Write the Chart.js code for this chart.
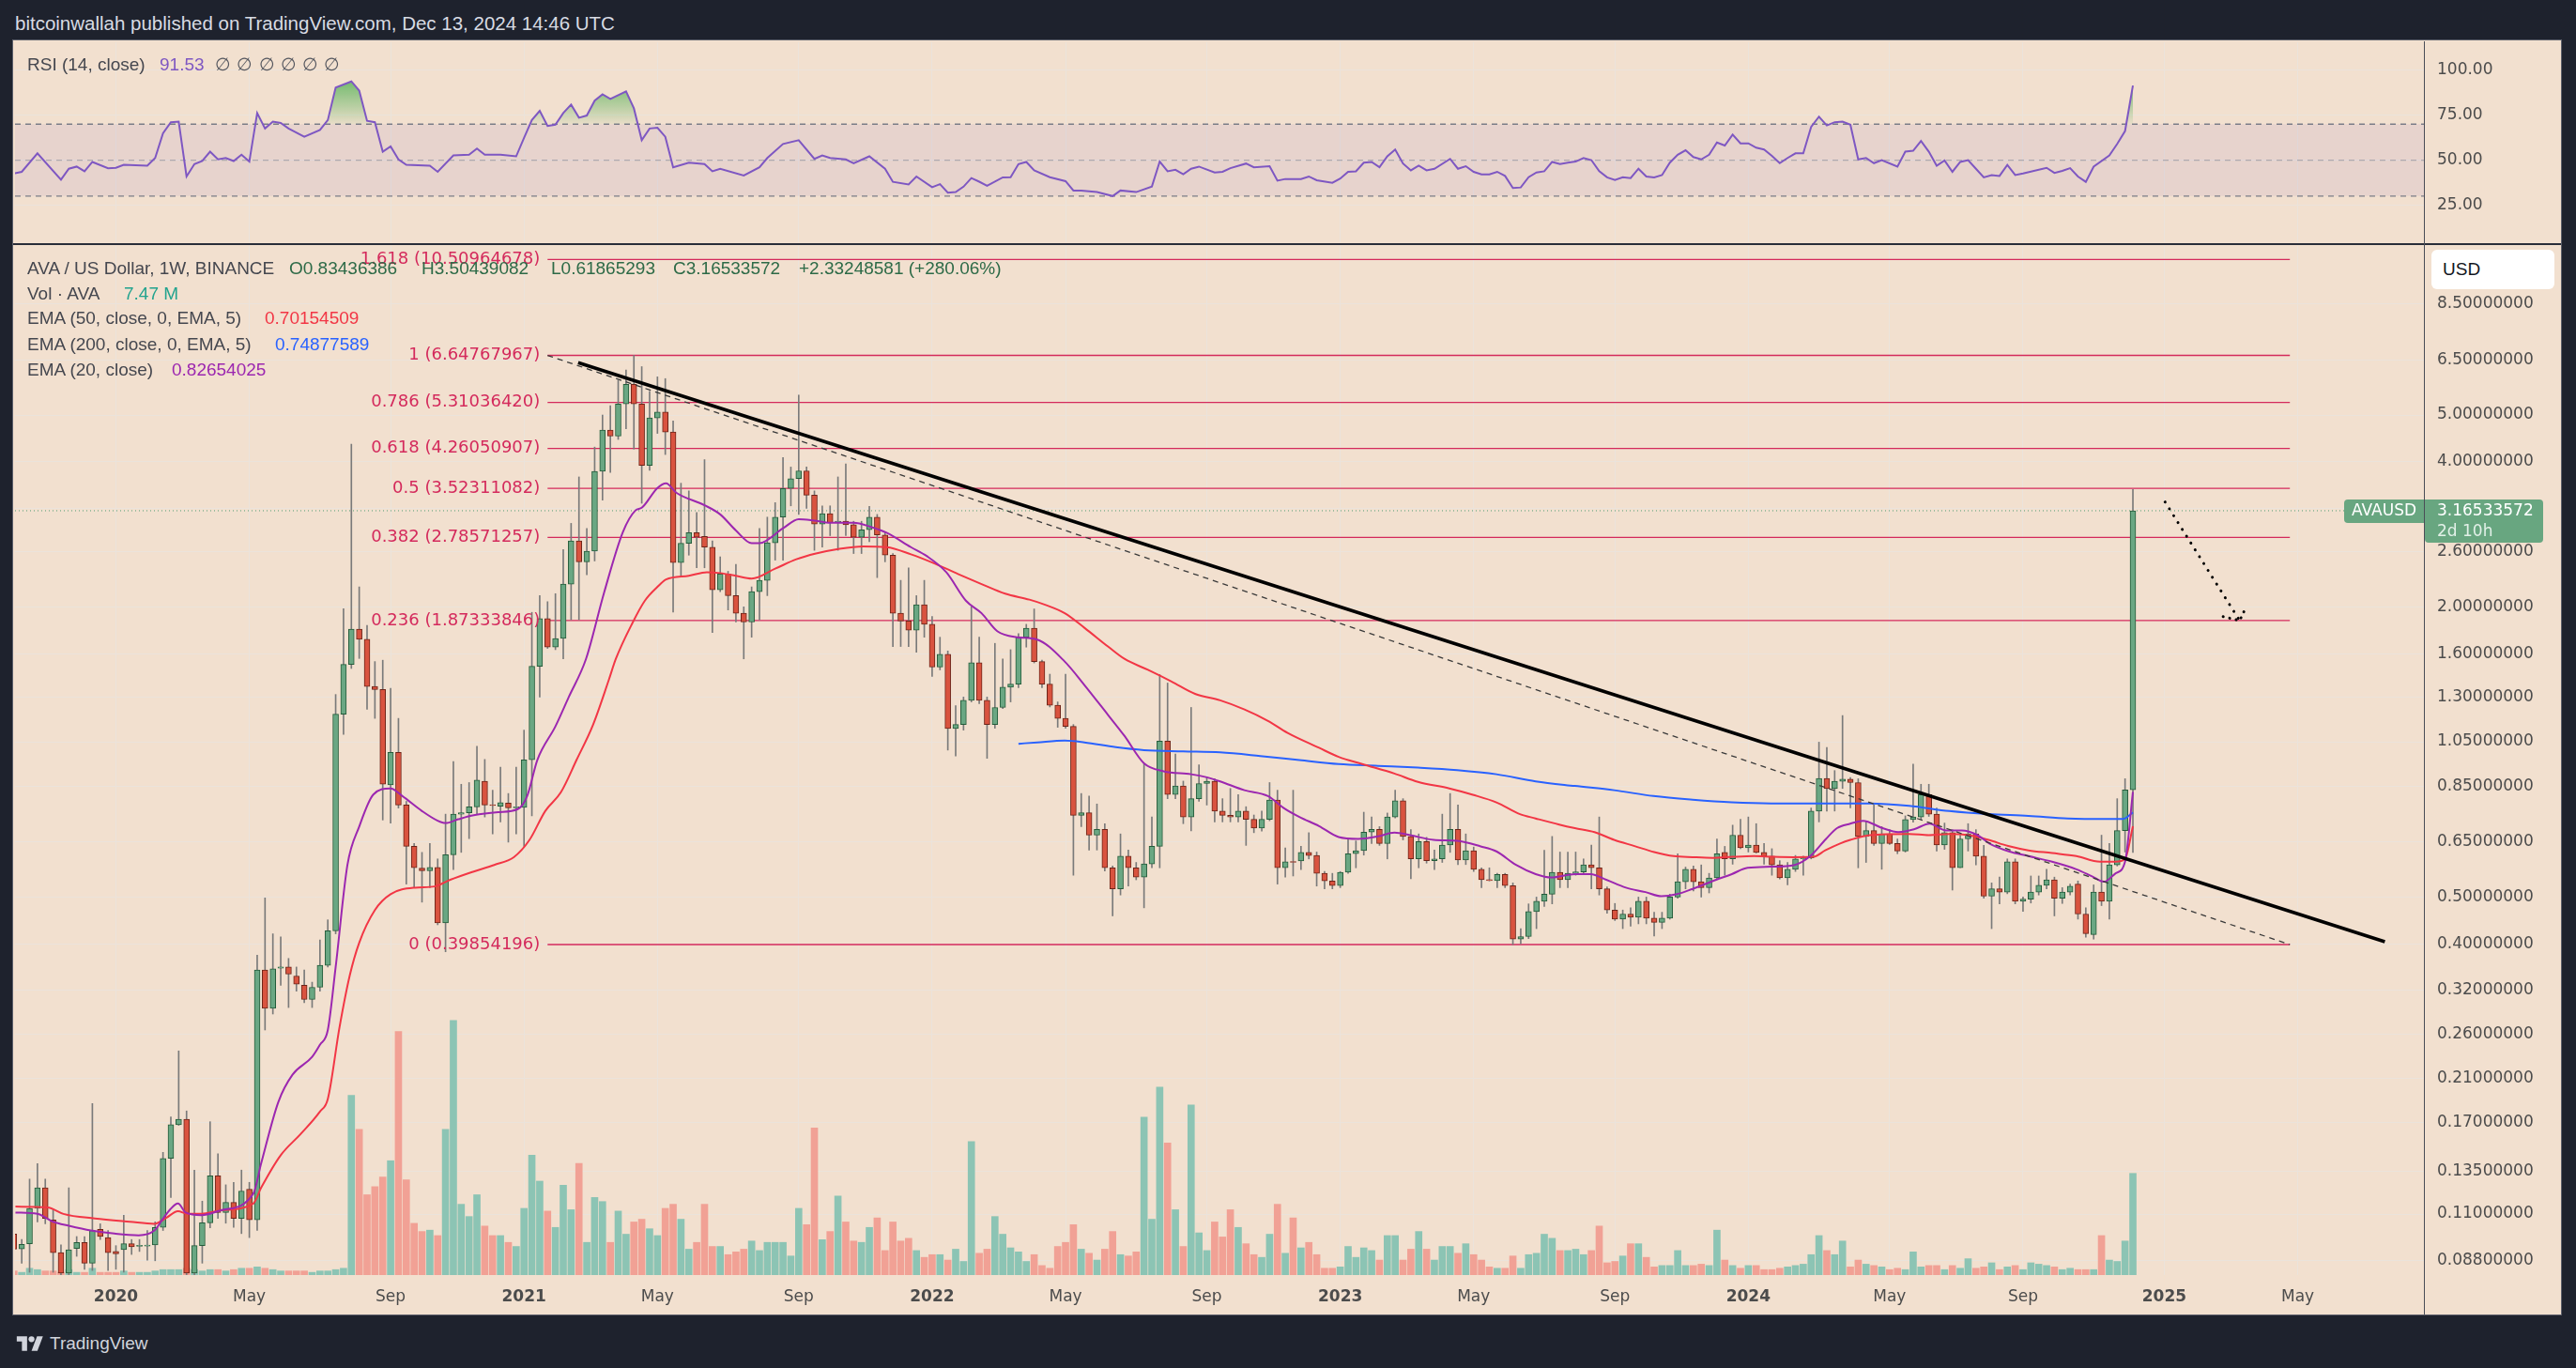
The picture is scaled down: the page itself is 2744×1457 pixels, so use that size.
<!DOCTYPE html>
<html>
<head>
<meta charset="utf-8">
<title>AVA / US Dollar, 1W</title>
<script src="https://cdn.jsdelivr.net/npm/chart.js@4.4.1/dist/chart.umd.min.js"></script>
<style>
  body { margin:0; width:2744px; height:1457px; background:#1e222d; position:relative; overflow:hidden; font-family:'Liberation Sans', Arial, sans-serif; }
  .abs { position:absolute; white-space:nowrap; }
  #frame { left:14px; top:43px; width:2714px; height:1357px; background:#f2e0cf; outline:1px solid #5d606b; }
  #rsi { left:14px; top:44px; }
  #main { left:14px; top:261px; }
  .lg { font-size:19px; line-height:22px; color:#45474f; }
</style>
</head>
<body>
<div class="abs" id="frame"></div>
<canvas class="abs" id="rsi" width="2714" height="215"></canvas>
<canvas class="abs" id="main" width="2714" height="1139"></canvas>
<div class="abs" style="left:14px;top:259px;width:2714px;height:2px;background:#2a2e39"></div>
<div class="abs" style="left:2582px;top:44px;width:1px;height:1356px;background:#4a4d57"></div>

<div class="abs" style="left:16px;top:13px;font-size:20.5px;color:#d8dbe3">bitcoinwallah published on TradingView.com, Dec 13, 2024 14:46 UTC</div>

<div class="abs lg" style="left:29px;top:58px">RSI (14, close)</div>
<div class="abs lg" style="left:170px;top:58px;color:#7e57c2">91.53</div>
<div class="abs lg" style="left:229px;top:58px;color:#55575f;word-spacing:1px">∅ ∅ ∅ ∅ ∅ ∅</div>

<div class="abs lg" style="left:29px;top:275px">AVA / US Dollar, 1W, BINANCE</div>
<div class="abs lg" style="left:308px;top:275px;color:#2d6a47">O0.83436386</div>
<div class="abs lg" style="left:449px;top:275px;color:#2d6a47">H3.50439082</div>
<div class="abs lg" style="left:587px;top:275px;color:#2d6a47">L0.61865293</div>
<div class="abs lg" style="left:717px;top:275px;color:#2d6a47">C3.16533572</div>
<div class="abs lg" style="left:851px;top:275px;color:#2d6a47">+2.33248581 (+280.06%)</div>
<div class="abs lg" style="left:29px;top:302px">Vol · AVA</div>
<div class="abs lg" style="left:132px;top:302px;color:#22a38e">7.47 M</div>
<div class="abs lg" style="left:29px;top:328px">EMA (50, close, 0, EMA, 5)</div>
<div class="abs lg" style="left:282px;top:328px;color:#f23645">0.70154509</div>
<div class="abs lg" style="left:29px;top:356px">EMA (200, close, 0, EMA, 5)</div>
<div class="abs lg" style="left:293px;top:356px;color:#2962ff">0.74877589</div>
<div class="abs lg" style="left:29px;top:383px">EMA (20, close)</div>
<div class="abs lg" style="left:183px;top:383px;color:#9c27b0">0.82654025</div>

<div class="abs" style="left:2590px;top:266px;width:131px;height:42px;background:#ffffff;border-radius:6px;font-size:19px;line-height:42px;color:#131722;text-indent:12px">USD</div>

<svg class="abs" style="left:14px;top:1420px" width="36" height="22" viewBox="0 0 36 28">
  <path d="M14 24H7V11H0V4h14v20z" fill="#d1d4dc"/>
  <circle cx="20" cy="8" r="4" fill="#d1d4dc"/>
  <path d="M28 24h-8l7.5-20h8L28 24z" fill="#d1d4dc"/>
</svg>
<div class="abs" style="left:53px;top:1420px;font-size:19px;line-height:22px;color:#d1d4dc">TradingView</div>

<script>
// weekly bars, index 0 = week of 7 Oct 2019, index 270 = week of 9 Dec 2024
const opens = [
  .100,.0931,.0955,.113,.1247,.107,.0915,.083,.0933,.096,
  .087,.1023,.0983,.092,.0928,.0955,.0943,.0944,.0949,.1032,
  .1435,.1686,.173,.083,.0946,.1055,.132,.1108,.1163,.1077,
  .1238,.107,.353,.294,.356,.358,.343,.328,.3066,.325,
  .361,.4256,1.198,1.519,1.798,1.713,1.367,1.348,.855,.998,
  .776,.637,.574,.567,.576,.442,.612,.743,.748,.769,
  .869,.776,.772,.783,.766,.767,.963,1.506,1.89,1.65,
  1.72,2.23,2.74,2.48,2.61,3.82,4.65,4.52,5.27,5.79,
  5.27,3.93,4.93,5.07,4.61,2.47,2.71,2.85,2.80,2.66,
  2.17,2.34,2.11,1.94,1.86,2.15,2.27,2.715,3.07,3.52,
  3.69,3.83,3.41,2.97,3.12,2.99,3.01,2.96,2.79,2.89,
  3.07,2.82,2.56,1.94,1.87,1.79,2.02,1.84,1.50,1.595,
  1.119,1.14,1.28,1.532,1.28,1.14,1.237,1.363,1.383,1.73,
  1.807,1.54,1.383,1.25,1.174,1.13,.739,.748,.672,.691,
  .575,.520,.608,.575,.55,.586,.637,1.053,.816,.85,
  .733,.80,.86,.869,.754,.739,.733,.754,.725,.695,
  .725,.795,.575,.592,.594,.619,.61,.56,.54,.528,
  .563,.615,.624,.682,.691,.646,.733,.792,.668,.60,
  .652,.595,.60,.641,.691,.597,.624,.571,.543,.541,
  .557,.528,.409,.414,.4665,.49,.507,.563,.543,.56,
  .564,.583,.575,.52,.47,.45,.461,.454,.49,.452,
  .443,.452,.50,.538,.571,.538,.523,.548,.619,.60,
  .672,.633,.641,.619,.608,.583,.548,.571,.60,.603,
  .754,.881,.839,.869,.878,.864,.668,.687,.646,.676,
  .646,.623,.724,.733,.816,.743,.641,.68,.575,.66,
  .676,.608,.502,.52,.512,.592,.49,.495,.512,.529,
  .543,.497,.512,.532,.461,.418,.512,.49,.583,.687,
  .83436386
];
const highs = [
  .103,.0974,.130,.140,.130,.1124,.095,.1247,.0988,.0988,
  .1865,.105,.1017,.0946,.1094,.0974,.0974,.1017,.106,.1477,
  .175,.2398,.180,.1357,.117,.171,.1467,.1265,.128,.1357,
  .128,.379,.498,.4195,.4135,.373,.358,.353,.333,.4076,
  .4485,1.316,1.982,4.35,2.20,1.83,1.54,1.55,1.355,1.174,
  .79,.646,.619,.646,.60,.743,.955,.857,.864,1.027,
  .965,.833,.93,.82,.93,1.11,1.948,2.11,2.05,2.13,
  2.63,2.98,3.72,2.91,4.29,5.00,5.23,5.9,6.2,6.648,
  6.3,5.6,6.0,5.95,4.86,3.61,3.48,3.14,4.04,2.74,
  2.54,2.37,2.45,2.0,2.2,2.91,3.07,3.29,4.08,3.90,
  5.50,3.9,3.48,3.24,3.24,3.72,3.96,3.01,3.01,3.23,
  3.11,2.85,2.58,2.27,2.41,2.11,2.27,1.91,1.73,1.62,
  1.247,1.30,2.00,1.73,1.30,1.68,1.56,1.63,1.76,1.84,
  1.98,1.55,1.45,1.27,1.45,1.14,.82,.81,.78,.71,
  .58,.676,.626,.59,.944,.733,1.447,1.39,.99,.87,
  1.237,.94,.887,.88,.80,.84,.816,.77,.74,.754,
  .864,.833,.632,.833,.637,.68,.62,.565,.56,.565,
  .661,.654,.75,.733,.70,.747,.833,.80,.69,.676,
  .665,.626,.743,.82,.776,.676,.635,.575,.575,.56,
  .56,.535,.43,.484,.50,.625,.668,.62,.62,.62,
  .60,.641,.733,.525,.485,.47,.475,.50,.50,.465,
  .465,.507,.615,.577,.58,.583,.56,.66,.637,.705,
  .725,.733,.71,.646,.63,.595,.59,.61,.608,.765,
  1.048,1.022,.915,1.19,.885,.88,.716,.776,.70,.69,
  .66,.737,.944,.857,.857,.765,.712,.69,.672,.71,
  .69,.64,.535,.55,.60,.60,.50,.553,.553,.571,
  .55,.523,.532,.54,.475,.53,.672,.646,.80,.88,
  3.50439082
];
const lows = [
  .091,.087,.0833,.106,.105,.0833,.080,.081,.0899,.0845,
  .084,.0974,.084,.0845,.0833,.0907,.092,.0882,.088,.1017,
  .119,.168,.078,.080,.087,.103,.1077,.1053,.1032,.1002,
  .0983,.1017,.265,.286,.328,.295,.319,.302,.295,.319,
  .358,.4195,1.087,1.49,1.563,1.226,1.174,.7225,.712,.765,
  .532,.523,.488,.523,.438,.385,.57,.619,.661,.743,
  .733,.676,.716,.65,.676,.637,.737,1.30,1.64,1.63,
  1.56,1.88,1.88,2.33,2.49,3.33,3.80,4.45,4.68,4.25,
  3.28,3.84,4.58,4.14,1.95,2.31,2.56,2.41,2.41,1.77,
  2.15,1.97,1.86,1.56,1.73,1.88,2.11,2.50,2.50,3.24,
  3.11,3.20,2.62,2.66,2.81,2.62,2.81,2.58,2.58,2.73,
  2.30,2.48,1.655,1.655,1.655,1.61,1.73,1.435,1.48,1.009,
  .981,1.11,1.27,1.26,.97,1.12,1.23,1.27,1.36,1.65,
  1.53,1.36,1.24,1.125,1.12,.555,.70,.626,.626,.566,
  .457,.505,.527,.543,.475,.575,.575,.80,.80,.71,
  .686,.79,.776,.716,.716,.716,.716,.64,.68,.685,
  .72,.532,.55,.553,.57,.60,.527,.52,.52,.523,
  .56,.575,.611,.646,.64,.60,.73,.657,.546,.575,
  .588,.57,.59,.619,.584,.584,.565,.523,.54,.523,
  .523,.3985,.40,.41,.43,.478,.484,.523,.523,.555,
  .56,.52,.505,.463,.447,.43,.435,.44,.44,.415,
  .43,.45,.497,.52,.515,.50,.51,.545,.555,.585,
  .63,.62,.617,.585,.555,.545,.53,.565,.555,.60,
  .716,.754,.754,.84,.766,.575,.59,.64,.571,.643,
  .615,.62,.715,.725,.735,.623,.628,.517,.575,.623,
  .583,.497,.43,.484,.508,.484,.467,.486,.505,.52,
  .457,.485,.505,.45,.413,.409,.48,.45,.58,.62,
  .61865293
];
const closes = [
  .093,.0952,.113,.1247,.1077,.0915,.083,.0928,.096,.087,
  .1017,.0988,.0915,.091,.0955,.0941,.0944,.0946,.1032,.1435,
  .1686,.173,.083,.0946,.1055,.132,.1108,.1163,.1077,.1228,
  .107,.353,.294,.355,.358,.346,.330,.3066,.325,.361,
  .4256,1.198,1.519,1.798,1.713,1.367,1.348,.857,.998,.776,
  .637,.575,.567,.576,.442,.612,.743,.748,.769,.874,
  .776,.774,.785,.766,.768,.963,1.506,1.89,1.65,1.72,
  2.23,2.74,2.48,2.61,3.82,4.65,4.52,5.27,5.79,5.27,
  3.93,4.93,5.07,4.61,2.47,2.71,2.85,2.79,2.66,2.17,
  2.34,2.11,1.94,1.86,2.15,2.27,2.715,3.07,3.52,3.69,
  3.83,3.41,2.97,3.12,2.99,3.01,2.96,2.79,2.89,3.07,
  2.82,2.56,1.94,1.87,1.79,2.02,1.84,1.50,1.595,1.119,
  1.14,1.28,1.532,1.28,1.14,1.237,1.363,1.383,1.73,1.807,
  1.54,1.383,1.25,1.174,1.13,.739,.748,.672,.691,.575,
  .520,.608,.575,.55,.586,.637,1.053,.816,.85,.733,
  .80,.86,.869,.754,.739,.733,.754,.725,.695,.725,
  .795,.575,.592,.590,.619,.61,.56,.54,.528,.563,
  .615,.624,.682,.691,.646,.733,.792,.668,.60,.652,
  .595,.60,.641,.691,.597,.624,.571,.543,.541,.557,
  .528,.409,.414,.4665,.49,.507,.563,.543,.56,.564,
  .583,.575,.52,.47,.45,.461,.454,.49,.452,.443,
  .452,.50,.538,.571,.538,.523,.548,.615,.60,.672,
  .633,.641,.619,.608,.583,.548,.571,.60,.603,.754,
  .881,.839,.869,.878,.864,.668,.687,.646,.676,.646,
  .623,.724,.733,.816,.743,.641,.68,.575,.66,.676,
  .608,.502,.52,.512,.592,.49,.495,.512,.529,.543,
  .497,.512,.527,.461,.42,.512,.49,.583,.687,.834,
  3.16533572
];
// volume in millions of AVA
const volumes = [
  .3,.2,.5,.4,.3,.3,.2,.4,.2,.2,
  .5,.2,.2,.2,.3,.2,.2,.2,.3,.4,
  .4,.4,.5,.4,.3,.4,.4,.3,.4,.5,
  .5,.6,.5,.4,.3,.3,.3,.3,.2,.3,
  .3,.4,.5,13.2,10.7,5.9,6.5,7.2,8.4,17.9,
  7.0,3.8,3.2,3.3,2.9,10.7,18.7,5.2,4.3,5.9,
  3.6,2.9,2.9,2.4,2.1,4.9,8.8,6.9,4.7,3.5,
  6.6,4.8,8.2,2.4,5.7,5.4,2.4,4.7,3.0,3.9,
  4.1,3.4,2.9,4.9,5.2,4.1,1.9,2.4,5.2,2.1,
  2.1,1.5,1.7,1.9,2.5,1.8,2.4,2.4,2.4,1.4,
  4.9,3.7,10.8,2.6,3.2,5.8,3.9,2.5,2.4,3.5,
  4.2,1.8,3.9,2.5,2.7,1.8,1.3,1.5,1.5,1.1,
  1.9,1.0,9.8,1.6,1.9,4.3,3.0,2.0,1.7,1.0,
  1.5,0.7,0.5,2.1,2.4,3.7,1.9,1.6,1.1,1.9,
  3.2,1.5,1.4,1.7,11.6,4.1,13.8,9.7,4.8,2.1,
  12.5,3.1,1.8,3.9,2.8,4.8,3.5,2.3,1.5,1.3,
  3.0,5.2,1.6,4.2,2.0,2.4,1.5,0.5,0.5,0.6,
  2.1,1.3,2.0,1.8,1.1,2.9,2.9,1.1,1.9,3.2,
  1.9,1.1,2.1,2.1,1.6,2.3,1.5,1.1,0.6,0.5,
  0.5,1.4,0.5,1.5,1.6,3.0,2.7,1.8,1.8,1.9,
  1.5,1.8,3.6,0.9,1.0,1.4,2.3,2.3,1.3,0.6,
  0.7,0.7,1.8,0.7,0.7,0.8,0.7,3.3,1.1,0.7,
  0.5,0.7,0.7,0.4,0.4,0.5,0.6,0.7,0.8,1.5,
  2.9,1.8,1.5,2.5,0.6,1.1,0.8,0.7,0.6,0.4,
  0.5,0.4,1.7,0.6,0.7,0.7,0.4,0.7,0.5,1.2,
  0.5,0.6,0.9,0.4,0.6,0.7,0.4,0.9,0.8,0.7,
  0.6,0.4,0.5,0.4,0.4,0.4,2.9,1.1,1.0,2.5,
  7.47
];

// indicator lines: [bar, value]
const ema20Series = [
  [0.2,.1108],[3,.1101],[5,.106],[7,.104],[9.8,.1017],[12.8,.1002],[15.9,.0994],[17.9,.1017],[18.9,.107],[19.9,.1124],
  [20.9,.1157],[21.9,.1108],[23.9,.1094],[26.4,.112],[30.5,.1212],[31.5,.140],[33.7,.188],[35.5,.214],[38,.233],[39,.247],
  [40,.265],[41,.358],[42.5,.583],[44,.70],[45.8,.816],[48,.84],[49.5,.81],[52,.754],[54,.72],[55,.712],
  [56.6,.725],[58.6,.739],[61.7,.75],[64.2,.761],[65.4,.81],[66.7,.963],[69,1.13],[70.7,1.30],[72.9,1.56],[75.2,2.14],
  [77.6,2.86],[79.2,3.17],[80,3.21],[82,3.53],[83.1,3.61],[84.4,3.45],[88,3.25],[90,3.11],[92,2.88],[94,2.71],
  [95,2.71],[98,2.91],[100,3.04],[102,3.02],[104,2.99],[107,2.99],[109.2,2.93],[111.2,2.85],[114.3,2.66],[116.3,2.55],
  [118.8,2.36],[121.3,2.06],[123.3,1.94],[125.3,1.78],[127.8,1.73],[130.4,1.71],[133.9,1.54],[136.4,1.377],[139.4,1.194],[141.5,1.08],
  [144,.947],[146.5,.912],[150,.899],[152,.886],[153.7,.869],[156.8,.833],[159.8,.81],[161.8,.765],[163.8,.733],[166.3,.702],
  [168.8,.666],[171.3,.66],[173.8,.668],[175.9,.68],[177.9,.672],[180.9,.657],[183.9,.654],[186.9,.637],[188.9,.622],[191.4,.583],
  [193.9,.558],[195.9,.549],[198.9,.558],[200.9,.558],[202.9,.543],[205.4,.523],[207.9,.512],[209.9,.502],[211.9,.507],[213.9,.52],
  [216.9,.543],[218.9,.558],[220.9,.575],[223.9,.578],[226.9,.583],[228.9,.608],[230.9,.66],[232.3,.695],[234,.71],[235.6,.72],
  [238.1,.695],[240.1,.682],[242.1,.691],[244.1,.71],[246.2,.687],[248.2,.687],[250.2,.672],[251.7,.646],[254.2,.622],[256.7,.608],
  [259.7,.592],[262.8,.571],[264.8,.552],[266.3,.538],[267.8,.56],[269,.592],[270,.82654025]
];
const ema50Series = [
  [0.2,.114],[4.3,.1135],[6.3,.1101],[10.3,.1077],[14.8,.106],[17.9,.105],[19.4,.108],[20.9,.1115],[22.1,.1101],[23.9,.1101],
  [26.4,.112],[30.5,.1157],[31.5,.1247],[34,.1457],[36.5,.161],[39,.1795],[40,.1906],[41.5,.269],[42.8,.344],[44,.402],
  [46,.47],[48,.507],[51.1,.523],[53.6,.526],[55.6,.543],[58.6,.565],[61.2,.583],[63.7,.605],[65.7,.657],[67.7,.754],
  [69.7,.825],[71.7,.963],[73.8,1.139],[75.8,1.41],[76.7,1.56],[78.8,1.85],[80.4,2.06],[82,2.2],[83.1,2.28],[86,2.32],
  [88.3,2.36],[90,2.35],[92,2.32],[94,2.29],[97,2.40],[99.7,2.51],[102.2,2.58],[105.2,2.64],[108.2,2.67],[111.2,2.66],
  [114.3,2.57],[117.3,2.46],[120.3,2.34],[123.3,2.23],[126.3,2.13],[129.4,2.07],[131.4,2.02],[133.9,1.94],[136.4,1.81],[139.4,1.655],
  [141.5,1.56],[144.5,1.48],[147.5,1.40],[150.5,1.32],[153.7,1.28],[156.8,1.225],[159.8,1.16],[162.3,1.095],[166.3,1.02],[168.8,.977],
  [171.8,.944],[175.9,.902],[178.9,.867],[182.9,.84],[185.9,.815],[188.9,.786],[191.9,.743],[193.9,.728],[196.9,.707],[198.9,.695],
  [201.4,.682],[203.9,.657],[206.5,.638],[209,.62],[211.5,.608],[213.9,.605],[216.5,.603],[219,.606],[221.7,.608],[224.2,.606],
  [226.8,.605],[229.3,.606],[230.8,.625],[232.7,.646],[234,.657],[236.5,.672],[241.5,.676],[244,.672],[246.6,.676],[249.1,.672],
  [251.6,.657],[254.1,.638],[256.7,.625],[259.7,.617],[262.8,.608],[265.8,.592],[267.8,.592],[269,.60],[270,.70154509]
];
const ema200Series = [
  [128,1.04],[130.4,1.047],[133.9,1.056],[136.4,1.047],[140.4,1.023],[144,1.009],[149,1.003],[153.7,.998],[158.8,.981],[163.8,.962],
  [168.8,.944],[173.8,.936],[178.9,.928],[183.9,.917],[188.9,.899],[193.9,.869],[198.9,.85],[203.9,.833],[208.9,.81],[213.9,.796],
  [218.9,.786],[223.9,.782],[228.9,.782],[232.3,.782],[236.5,.782],[241.5,.773],[246.6,.754],[251.6,.743],[256.7,.737],[261.7,.728],
  [266.7,.726],[268.7,.726],[270,.74877589]
];
const rsiSeries = [
  [0,42.6],[1,43.5],[3,53.8],[6,39.1],[7,45.2],[8,46.4],[9,43.8],[10,49.0],[12,45.5],[13,45.7],
  [14,47.4],[17,46.9],[18,51.2],[19,65.0],[20,71.1],[21,71.4],[22,40.9],[23,47.8],[24,49.5],[25,54.7],
  [26,50.4],[27,51.2],[28,49.5],[29,53.0],[30,49.2],[31,76.2],[32,67.6],[33,71.4],[34,70.7],[35,67.6],
  [37,63.0],[39,66.8],[40,72.3],[41,90.4],[43,93.8],[44,88.7],[45,71.9],[46,71.1],[47,54.7],[48,57.6],
  [49,50.4],[50,47.4],[53,46.9],[54,43.5],[56,52.6],[58,53.0],[59,56.4],[60,53.0],[62,53.0],[64,52.1],
  [65,62.4],[66,72.3],[67,77.4],[68,69.0],[69,69.7],[70,76.2],[71,80.9],[72,73.6],[73,74.8],[74,83.1],
  [75,86.6],[76,84.0],[78,88.3],[79,78.8],[80,61.1],[81,67.6],[82,68.0],[83,63.0],[84,46.0],[86,48.6],
  [88,47.8],[89,43.8],[90,45.2],[93,41.4],[95,46.0],[96,51.2],[98,59.0],[100,61.1],[102,50.7],[103,52.6],
  [104,51.2],[106,50.4],[107,48.3],[109,52.1],[111,45.2],[112,37.9],[114,36.5],[115,40.9],[117,34.9],[118,36.6],
  [119,31.9],[120,32.2],[121,35.2],[122,40.0],[123,38.0],[124,35.7],[126,40.4],[127,40.5],[128,47.8],[129,49.0],
  [130,44.3],[132,40.5],[134,38.3],[135,33.1],[136,33.1],[138,32.2],[140,30.0],[141,33.1],[143,32.2],[145,35.3],
  [146,49.2],[147,43.8],[148,44.6],[149,42.1],[150,45.2],[151,46.4],[153,43.1],[154,43.5],[155,45.5],[157,48.1],
  [158,46.0],[160,46.6],[161,38.6],[162,39.5],[164,39.5],[165,40.9],[166,38.8],[168,37.4],[169,39.7],[170,43.5],
  [171,43.8],[172,48.6],[173,49.0],[174,46.0],[175,52.1],[176,55.9],[177,48.1],[178,44.3],[179,46.9],[180,44.3],
  [181,45.2],[183,50.7],[184,45.2],[185,46.6],[186,43.5],[187,42.1],[188,42.1],[189,43.5],[190,41.2],[191,34.5],
  [192,34.8],[193,40.5],[194,43.1],[195,43.8],[196,49.0],[197,47.8],[198,48.6],[199,49.2],[200,51.2],[201,50.0],
  [202,43.8],[203,40.4],[204,39.0],[205,40.5],[206,40.0],[207,45.2],[208,40.9],[209,40.4],[210,41.7],[211,48.6],
  [212,53.0],[213,55.5],[214,51.7],[215,50.4],[216,53.0],[217,59.8],[218,58.1],[219,64.2],[220,59.3],[221,59.3],
  [222,56.9],[223,55.9],[224,52.4],[225,48.3],[226,51.2],[227,53.8],[228,53.8],[229,68.5],[230,74.2],[231,69.3],
  [232,71.1],[233,71.4],[234,69.7],[235,50.4],[236,51.2],[237,48.3],[238,50.0],[240,46.4],[241,54.7],[242,55.2],
  [243,60.7],[244,54.7],[245,46.9],[246,49.8],[247,43.5],[248,49.0],[249,50.0],[250,45.2],[251,40.4],[252,41.7],
  [253,41.2],[254,47.3],[255,41.7],[256,42.6],[259,45.7],[260,42.9],[261,44.0],[262,45.5],[263,40.9],[264,37.9],
  [265,46.4],[267,52.6],[268,59.0],[269,66.2],[270,91.53]
];

// fibonacci retracement and drawings
const fibRatios = ['1.618', '1', '0.786', '0.618', '0.5', '0.382', '0.236', '0'];
const fibPrices = [10.50964678, 6.64767967, 5.31036420, 4.26050907, 3.52311082, 2.78571257, 1.87333846, 0.39854196];
const fibBars = [68, 290];
const trendBars = [71.9, 302.1], trendVals = [6.42, 0.404];
const arrowBars = [274.1, 283.6], arrowVals = [3.30, 1.873];
const arrowHeadBars = [281.5, 283.6, 284.4], arrowHeadVals = [1.909, 1.873, 1.995];

// axes
const tickBars = [13, 30, 48, 65, 82, 100, 117, 134, 152, 169, 186, 204, 221, 239, 256, 274, 291];
const tickLabels = ['2020','May','Sep','2021','May','Sep','2022','May','Sep','2023','May','Sep','2024','May','Sep','2025','May'];
const priceTicks = [8.5, 6.5, 5, 4, 3.2, 2.6, 2, 1.6, 1.3, 1.05, 0.85, 0.65, 0.5, 0.4, 0.32, 0.26, 0.21, 0.17, 0.135, 0.11, 0.088];
const rsiTicks = [100, 75, 50, 25];
const rsiBands = [70, 50, 30];

const xMin = 0.144, xMax = 307.2;
const gridColor = '#ebe3db';
const axisText = '#4c4c4c';
const axisFont = { family: 'DejaVu Sans', size: 17 };
const fibColor = '#d42a5c';

const lastClose = closes[closes.length - 1];
const isUp = closes.map((c, i) => c >= opens[i]);
const pts = s => s.map(([b, v]) => ({ x: b, y: v }));
const pair = (bs, vs) => bs.map((b, k) => ({ x: b, y: vs[k] }));
const setXTicks = s => { s.ticks = tickBars.map(v => ({ value: v })); };
const noPadX = s => { s.paddingLeft = 0; s.paddingRight = 0; };

const rsiBandPlugin = {
  id: 'rsiBand',
  beforeDatasetsDraw(chart) {
    const { ctx, chartArea: a, scales: { y } } = chart;
    const [hi, mid, lo] = rsiBands.map(v => y.getPixelForValue(v));
    ctx.save();
    ctx.fillStyle = 'rgba(126,87,194,0.09)';
    ctx.fillRect(a.left, hi, a.right - a.left, lo - hi);
    ctx.lineWidth = 1.3;
    ctx.setLineDash([6, 5]);
    ctx.strokeStyle = '#7b7d88';
    [hi, lo].forEach(py => { ctx.beginPath(); ctx.moveTo(a.left, py); ctx.lineTo(a.right, py); ctx.stroke(); });
    ctx.strokeStyle = 'rgba(123,125,136,0.5)';
    ctx.beginPath(); ctx.moveTo(a.left, mid); ctx.lineTo(a.right, mid); ctx.stroke();
    ctx.restore();
  }
};

const fibLabelPlugin = {
  id: 'fibLabels',
  afterDatasetsDraw(chart) {
    const { ctx, scales: { x, y } } = chart;
    const right = x.getPixelForValue(fibBars[0]) - 8;
    ctx.save();
    ctx.font = '18px "DejaVu Sans"';
    ctx.fillStyle = fibColor;
    ctx.textAlign = 'right';
    ctx.textBaseline = 'middle';
    fibRatios.forEach((r, k) => {
      ctx.fillText(r + ' (' + fibPrices[k].toFixed(8) + ')', right, y.getPixelForValue(fibPrices[k]));
    });
    ctx.restore();
  }
};

const lastPricePlugin = {
  id: 'lastPrice',
  afterDraw(chart) {
    const { ctx, chartArea: a, scales: { y } } = chart;
    const py = Math.round(y.getPixelForValue(lastClose));
    ctx.save();
    ctx.fillStyle = '#68a680';
    ctx.beginPath(); ctx.roundRect(a.right - 86, py - 12, 86, 25, [4, 0, 0, 4]); ctx.fill();
    ctx.beginPath(); ctx.roundRect(a.right, py - 12, 126, 46, [0, 4, 4, 4]); ctx.fill();
    ctx.font = '17px "DejaVu Sans"';
    ctx.textBaseline = 'middle';
    ctx.fillStyle = '#ffffff';
    ctx.fillText('AVAUSD', a.right - 78, py + 1);
    ctx.fillText(lastClose.toFixed(8), a.right + 13, py + 1);
    ctx.fillStyle = '#e2f0e7';
    ctx.fillText('2d 10h', a.right + 13, py + 23);
    ctx.restore();
  }
};

const rsiChart = new Chart(document.getElementById('rsi'), {
  type: 'line',
  data: {
    datasets: [{
      data: pts(rsiSeries),
      borderColor: '#7e57c2',
      borderWidth: 2,
      pointRadius: 0,
      fill: { target: { value: 70 }, above: 'rgba(76,175,80,0.5)', below: 'rgba(0,0,0,0)' }
    }]
  },
  options: {
    responsive: false, animation: false, devicePixelRatio: 1, events: [],
    layout: { padding: { left: 2, right: 0, top: 0, bottom: 0 } },
    plugins: { legend: { display: false }, tooltip: { enabled: false } },
    scales: {
      x: {
        type: 'linear', min: xMin, max: xMax, bounds: 'data',
        afterBuildTicks: setXTicks,
        ticks: { display: false, autoSkip: false },
        grid: { color: gridColor, drawTicks: false },
        border: { display: false },
        afterFit: s => { s.height = 0; noPadX(s); }
      },
      y: {
        position: 'right', min: 4.3, max: 115.6, bounds: 'data',
        afterBuildTicks: s => { s.ticks = rsiTicks.map(v => ({ value: v })); },
        ticks: { font: axisFont, color: axisText, padding: 13, autoSkip: false, callback: v => Number(v).toFixed(2) },
        grid: { color: gridColor, drawTicks: false },
        border: { display: false },
        afterFit: s => { s.width = 145; s.paddingTop = 0; s.paddingBottom = 0; }
      }
    }
  },
  plugins: [rsiBandPlugin]
});
{
  const ry = rsiChart.scales.y;
  const g = rsiChart.ctx.createLinearGradient(0, ry.getPixelForValue(95), 0, ry.getPixelForValue(70));
  g.addColorStop(0, 'rgba(76,175,80,0.8)');
  g.addColorStop(1, 'rgba(76,175,80,0.06)');
  rsiChart.data.datasets[0].fill.above = g;
  rsiChart.update('none');
}

const fibSets = fibPrices.map(p => ({
  type: 'line', data: pair(fibBars, [p, p]),
  borderColor: fibColor, borderWidth: 1.3, pointRadius: 0, order: 9
}));

new Chart(document.getElementById('main'), {
  type: 'bar',
  data: {
    datasets: [
      {
        type: 'bar', yAxisID: 'vol', grouped: false, order: 10,
        data: volumes.map((v, i) => ({ x: i, y: v })),
        backgroundColor: isUp.map(u => u ? '#8cc4b4' : '#f1a195'),
        barThickness: 7
      },
      ...fibSets,
      {
        type: 'line', order: 8, data: pair([xMin, xMax], [lastClose, lastClose]),
        borderColor: '#4f9d72', borderWidth: 1, borderDash: [1, 3], pointRadius: 0
      },
      {
        type: 'bar', grouped: false, order: 7,
        data: highs.map((h, i) => ({ x: i, y: [lows[i], h] })),
        backgroundColor: '#7a7a7a', barThickness: 1
      },
      {
        type: 'bar', grouped: false, order: 6,
        data: opens.map((o, i) => ({ x: i, y: [o, closes[i]] })),
        backgroundColor: isUp.map(u => u ? '#6aa783' : '#d9533f'),
        borderColor: isUp.map(u => u ? '#245c3a' : '#6e2418'),
        borderWidth: 1, borderSkipped: false, barThickness: 6, minBarLength: 1
      },
      { type: 'line', order: 5, data: pts(ema200Series), borderColor: '#2962ff', borderWidth: 2, pointRadius: 0, cubicInterpolationMode: 'monotone' },
      { type: 'line', order: 4, data: pts(ema50Series), borderColor: '#f23645', borderWidth: 2, pointRadius: 0, cubicInterpolationMode: 'monotone' },
      { type: 'line', order: 3, data: pts(ema20Series), borderColor: '#9c27b0', borderWidth: 2, pointRadius: 0, cubicInterpolationMode: 'monotone' },
      {
        type: 'line', order: 2, data: pair(fibBars, [fibPrices[1], fibPrices[7]]),
        borderColor: '#3a3a3a', borderWidth: 1.3, borderDash: [6, 5], pointRadius: 0
      },
      {
        type: 'line', order: 1, data: pair(trendBars, trendVals),
        borderColor: '#000000', borderWidth: 3.5, pointRadius: 0
      },
      {
        type: 'line', order: 0, data: pair(arrowBars, arrowVals),
        borderColor: '#000000', borderWidth: 3, borderDash: [0.1, 8.5], borderCapStyle: 'round', pointRadius: 0
      },
      {
        type: 'line', order: 0, data: pair(arrowHeadBars, arrowHeadVals),
        borderColor: '#000000', borderWidth: 3, borderDash: [0.1, 7], borderCapStyle: 'round', pointRadius: 0
      }
    ]
  },
  options: {
    responsive: false, animation: false, devicePixelRatio: 1, events: [],
    layout: { padding: { left: 2, right: 0, top: 1, bottom: 0 } },
    plugins: { legend: { display: false }, tooltip: { enabled: false } },
    scales: {
      x: {
        type: 'linear', min: xMin, max: xMax, bounds: 'data', offset: false,
        afterBuildTicks: setXTicks,
        ticks: {
          autoSkip: false, maxRotation: 0, padding: 13, color: axisText,
          font: c => ({ family: 'DejaVu Sans', size: 17, weight: /^\d/.test(tickLabels[c.index] || '') ? 'bold' : 'normal' }),
          callback: (v, i) => tickLabels[i]
        },
        grid: { color: gridColor, drawTicks: false, offset: false },
        border: { display: false },
        afterFit: s => { s.height = 42; noPadX(s); }
      },
      y: {
        type: 'logarithmic', position: 'right', min: 0.0822, max: 11.21, bounds: 'data',
        afterBuildTicks: s => { s.ticks = priceTicks.map(v => ({ value: v })); },
        ticks: { font: axisFont, color: axisText, padding: 13, autoSkip: false, callback: v => Number(v).toFixed(8) },
        grid: { color: gridColor, drawTicks: false },
        border: { display: false },
        afterFit: s => { s.width = 145; s.paddingTop = 0; s.paddingBottom = 0; }
      },
      vol: { type: 'linear', display: false, min: 0, max: 75.6 }
    }
  },
  plugins: [fibLabelPlugin, lastPricePlugin]
});
</script>
</body>
</html>
